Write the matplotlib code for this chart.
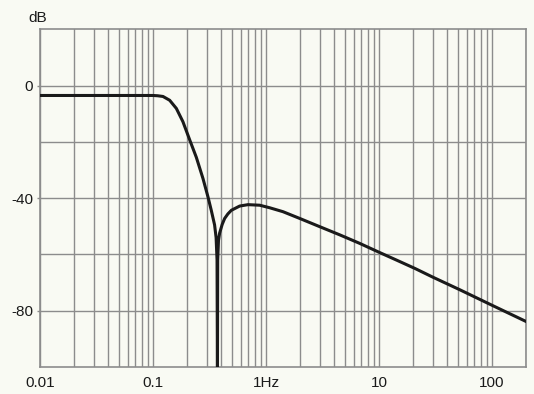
import matplotlib
matplotlib.use("Agg")
import matplotlib.pyplot as plt
from matplotlib.ticker import FixedLocator, NullFormatter

# frequency (Hz) and level (dB)
freq = [0.01, 0.05, 0.1, 0.11, 0.1226, 0.1405, 0.161, 0.184, 0.211, 0.242,
        0.277, 0.307, 0.328, 0.351, 0.362, 0.369, 0.372,
        0.374, 0.380, 0.389, 0.410, 0.431, 0.460, 0.494, 0.585, 0.693, 0.880,
        1.078, 1.414, 1.99, 2.98, 4.48, 6.7, 10.0, 14.3, 20.9, 30.1, 51.7,
        100.7, 200]
level = [-3.5, -3.5, -3.5, -3.6, -3.85, -5.2, -8.1, -12.8, -19.2, -25.5,
         -33.0, -39.6, -44.3, -49.5, -54.0, -62.0, -104,
         -62.0, -55.0, -52.4, -49.3, -47.2, -45.6, -44.3, -42.8, -42.3, -42.5,
         -43.4, -44.8, -47.2, -50.1, -53.0, -56.0, -59.2, -62.0, -65.0, -68.1,
         -72.5, -78.1, -83.8]

xtick_pos = [0.01, 0.1, 1, 10, 100]
xtick_lab = ["0.01", "0.1", "1Hz", "10", "100"]
ytick_pos = [0, -40, -80]
ytick_lab = ["0", "-40", "-80"]

bg = "#f9faf3"
grid_c = "#8c8c8c"
plt.rcParams['font.family'] = ['Liberation Sans', 'DejaVu Sans']

fig = plt.figure(figsize=(5.34, 3.94), dpi=100, facecolor=bg)
ax = fig.add_axes([0.0749, 0.0685, 0.910, 0.857])
ax.set_facecolor(bg)

ax.set_xscale("log")
ax.set_xlim(0.01, 200)
ax.set_ylim(-100, 20)

# grid: every decade subdivision on x, every 20 dB on y
minor = [m * 10.0 ** e for e in range(-2, 3) for m in range(2, 10)]
ax.xaxis.set_minor_locator(FixedLocator(minor))
ax.xaxis.set_minor_formatter(NullFormatter())
ax.xaxis.set_major_locator(FixedLocator(xtick_pos))
ax.set_xticklabels(xtick_lab)
ax.yaxis.set_major_locator(FixedLocator(ytick_pos))
ax.set_yticklabels(ytick_lab)
for yv in range(-80, 20, 20):
    ax.axhline(yv, color=grid_c, lw=1.0, zorder=1)
ax.grid(True, axis="x", which="both", color=grid_c, lw=1.0, zorder=1)

ax.plot(freq, level, color="#1a1a1a", lw=2.2, zorder=3, solid_joinstyle="round")

for s in ax.spines.values():
    s.set_color(grid_c)
    s.set_linewidth(1.2)

ax.tick_params(axis="x", which="both", length=0, labelsize=11, pad=6.5,
               labelcolor="#1a1a1a")
ax.tick_params(axis="y", length=2, width=1, color=grid_c, labelsize=11,
               pad=3, labelcolor="#1a1a1a")

fig.text(0.054, 0.954, "dB", fontsize=11, color="#1a1a1a", ha="left", va="center")

fig.savefig("out.png", dpi=100, facecolor=bg)
